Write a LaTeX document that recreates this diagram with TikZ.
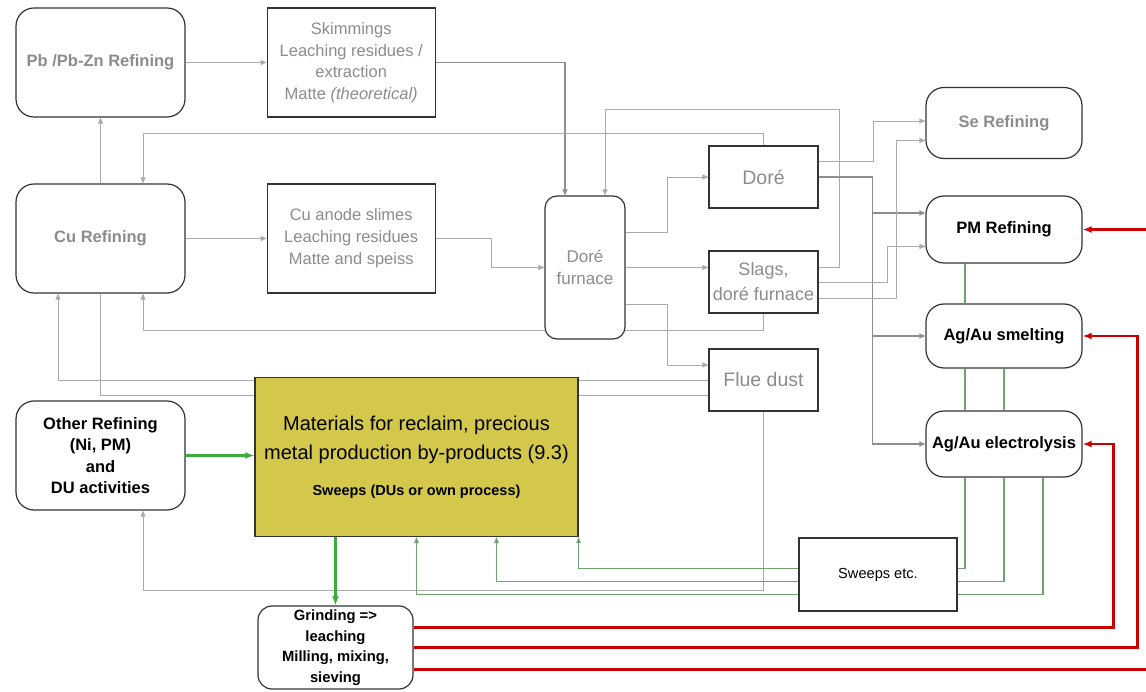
\documentclass[tikz,border=0pt]{standalone}
\usepackage{fontspec}
\setmainfont{Liberation Sans}
\usepackage{tikz}
\usetikzlibrary{
  arrows.meta,
  positioning,
  backgrounds,
  calc
}
\definecolor{darkgrey}{HTML}{333333}
\definecolor{textgrey}{HTML}{8C8C8C}
\definecolor{arrowgrey}{HTML}{ABABAB}
\definecolor{arrowdark}{HTML}{8E8E8E}
\definecolor{reclaim}{HTML}{D3C84B}
\definecolor{sweepgreen}{HTML}{72A272}
\definecolor{feedgreen}{HTML}{3DAA3D}
\definecolor{returnred}{HTML}{CC0000}
\tikzset{
  refbox/.style={
    rectangle, rounded corners=#1, draw=darkgrey, fill=white,
    line width=1.2pt, align=center, inner sep=0pt,
    font=\fontsize{16.5}{21.5}\selectfont\bfseries
  },
  refbox/.default=18pt,
  prodbox/.style={
    rectangle, draw=darkgrey, fill=white, line width=1.2pt,
    align=center, inner sep=0pt, text=textgrey,
    font=\fontsize{16.5}{21.5}\selectfont
  },
  arrowstyle/.style={
    -{Triangle[length=6pt,width=5pt]}, line width=0.9pt, color=arrowgrey
  },
  darkarrow/.style={
    -{Triangle[length=6pt,width=5pt]}, line width=1.1pt, color=arrowdark
  },
  plainline/.style={
    line width=0.9pt, color=arrowgrey
  },
  sweepline/.style={
    line width=1.1pt, color=sweepgreen
  },
  sweeparrow/.style={
    -{Triangle[length=6pt,width=4.5pt]}, line width=1.1pt, color=sweepgreen
  },
  feedarrow/.style={
    -{Latex[length=9pt,width=7pt]}, line width=2.4pt, color=feedgreen
  },
  redarrow/.style={
    -{Latex[length=9pt,width=7pt]}, line width=2.4pt, color=returnred
  },
}

\begin{document}
\begin{tikzpicture}[
  x=1pt, y=-1pt,
  boxsize/.style 2 args={minimum width=#1, minimum height=#2}
]
  \useasboundingbox (0,0) rectangle (1146,692);

  %% ── Base metal refining ──────────────────────────────────────────────────
  \node[refbox, boxsize={169pt}{109pt}, text=textgrey] (pbref) at (100.5,62.5) {Pb /Pb-Zn Refining};
  \node[prodbox, boxsize={168pt}{109pt}, right=81pt of pbref] (skim)
    {Skimmings\\Leaching residues /\\extraction\\Matte \textit{(theoretical)}};
  \node[refbox, boxsize={169pt}{109pt}, text=textgrey] (curef) at (100.5,238.5) {Cu Refining};
  \node[prodbox, boxsize={168pt}{109pt}, right=81pt of curef, font=\fontsize{16.5}{22}\selectfont] (cuanode)
    {Cu anode slimes\\Leaching residues\\Matte and speiss};
  \node[refbox, boxsize={169pt}{109pt}, text=black] (othref) at (100.5,455.5)
    {Other Refining\\(Ni, PM)\\and\\DU activities};

  %% ── Doré furnace and its products ────────────────────────────────────────
  \node[refbox=12pt, boxsize={80pt}{143pt}, text=textgrey,
        font=\fontsize{17}{22}\selectfont] (dfurn) at (585,267.5) {Doré\\furnace};
  \node[prodbox, boxsize={109pt}{62pt}, font=\fontsize{19.5}{22}\selectfont] (dore) at (763.5,177) {Doré};
  \node[prodbox, boxsize={109pt}{62pt}, font=\fontsize{18}{25}\selectfont] (slags) at (763.5,282)
    {Slags,\\doré furnace};
  \node[prodbox, boxsize={109pt}{62pt}, font=\fontsize{19.5}{22}\selectfont] (flue) at (763.5,380) {Flue dust};

  %% ── Precious metal refining ──────────────────────────────────────────────
  \node[refbox, boxsize={156pt}{71pt}, text=textgrey] (seref)   at (1004,123)   {Se Refining};
  \node[refbox, boxsize={156pt}{67pt}]                (pmref)   at (1004,229.5) {PM Refining};
  \node[refbox, boxsize={156pt}{64pt}]                (agsmelt) at (1004,336)   {Ag/Au smelting};
  \node[refbox, boxsize={156pt}{66pt}]                (agelec)  at (1004,444)   {Ag/Au electrolysis};

  %% ── Reclaim materials ────────────────────────────────────────────────────
  \node[prodbox, boxsize={323pt}{159pt}, fill=reclaim, text=black,
        font=\fontsize{20}{29}\selectfont] (mater) at (416.5,457)
    {Materials for reclaim, precious\\metal production by-products (9.3)\\[7pt]
     {\fontsize{14.5}{16}\selectfont\bfseries Sweeps (DUs or own process)}};
  \node[prodbox, boxsize={158pt}{73pt}, text=black,
        font=\fontsize{14.6}{16}\selectfont] (sweeps) at (878,574.5) {Sweeps etc.};
  \node[refbox=14pt, boxsize={155pt}{83pt}, text=black,
        font=\fontsize{14.8}{20.5}\selectfont\bfseries] (grind) at (335.5,647.5)
    {Grinding =>\\leaching\\Milling, mixing,\\sieving};

  %% ── Arrows ───────────────────────────────────────────────────────────────
  \begin{scope}[on background layer]
    % Base metal refining
    \draw[arrowstyle] (pbref.east) -- (skim.west);
    \draw[arrowstyle] (curef.north) -- (pbref.south);
    \draw[arrowstyle] (curef.east) -- (cuanode.west);
    \draw[darkarrow]  (skim.east) -| ([xshift=-20pt]dfurn.north);
    \draw[arrowstyle] (cuanode.east) -- ++(56,0) |- (dfurn.west);

    % Doré furnace outputs
    \draw[arrowstyle] ([yshift=35.5pt]dfurn.east) -- ++(42,0) |- (dore.west);
    \draw[arrowstyle] (dfurn.east) -- (dfurn.east -| slags.west);
    \draw[arrowstyle] ([yshift=-36.5pt]dfurn.east) -- ++(42,0) |- ([yshift=15pt]flue.west);

    % Returns to Cu refining and other refining
    \draw[arrowstyle] (dore.north) -- ++(0,-12) -| ([xshift=42.5pt]curef.north);
    \draw[arrowstyle] (slags.south) -- ++(0,17) -| ([xshift=42.5pt]curef.south);
    \draw[arrowstyle] (flue.west) -| ([xshift=-42.5pt]curef.south);
    \draw[plainline]  (curef.south) |- ([yshift=-15pt]flue.west);
    \draw[arrowstyle] (flue.south) -- ++(0,179) -| ([xshift=42.5pt]othref.south);
    \draw[arrowstyle] ([yshift=15pt]slags.east) -- ++(21,0) -- ++(0,-158)
                      -| ([xshift=20pt]dfurn.north);

    % Doré to precious metal refining
    \coordinate (dsplit) at ($(dore.east)+(54,0)$);
    \draw[arrowstyle] ([yshift=16pt]dore.east) -- ++(55,0) |- ([yshift=2pt]seref.west);
    \draw[darkarrow]  (dore.east) -- (dsplit) |- ([yshift=16.5pt]pmref.west);
    \draw[darkarrow]  (dsplit) |- (agsmelt.west);
    \draw[darkarrow]  (dsplit) |- (agelec.west);

    % Slags to precious metal refining
    \draw[arrowstyle] (slags.east) -- ++(69,0) |- ([yshift=-17pt]pmref.west);
    \draw[arrowstyle] ([yshift=-16pt]slags.east) -- ++(78,0) |- ([yshift=-17.5pt]seref.west);

    % Sweeps loop
    \draw[sweepline] ([xshift=-39pt]pmref.south) -- ([xshift=-39pt]agsmelt.north);
    \draw[sweepline] ([xshift=-39pt]agsmelt.south) -- ([xshift=-39pt]agelec.north);
    \draw[sweepline] (agsmelt.south) -- (agelec.north);
    \draw[sweepline] ([xshift=-39pt]agelec.south) |- ([yshift=6pt]sweeps.east);
    \draw[sweepline] (agelec.south) |- ([yshift=-7pt]sweeps.east);
    \draw[sweepline] ([xshift=39pt]agelec.south) |- ([yshift=-20pt]sweeps.east);
    \draw[sweeparrow] ([yshift=6pt]sweeps.west) -| (mater.south east);
    \draw[sweeparrow] ([yshift=-7pt]sweeps.west) -| ([xshift=80pt]mater.south);
    \draw[sweeparrow] ([yshift=-20pt]sweeps.west) -| (mater.south);

    % Feeds into reclaim and grinding
    \draw[feedarrow] (othref.east) -- (othref.east -| mater.west);
    \draw[feedarrow] (grind.north |- mater.south) -- (grind.north);

    % Grinding back to precious metal refining
    \draw[redarrow] ([yshift=20pt]grind.east) -- ++(700,0) |- (agelec.east);
    \draw[redarrow] (grind.east) -- ++(724,0) |- (agsmelt.east);
    \draw[redarrow] ([yshift=-22pt]grind.east) -- ++(745,0) |- (pmref.east);
  \end{scope}

\end{tikzpicture}
\end{document}
